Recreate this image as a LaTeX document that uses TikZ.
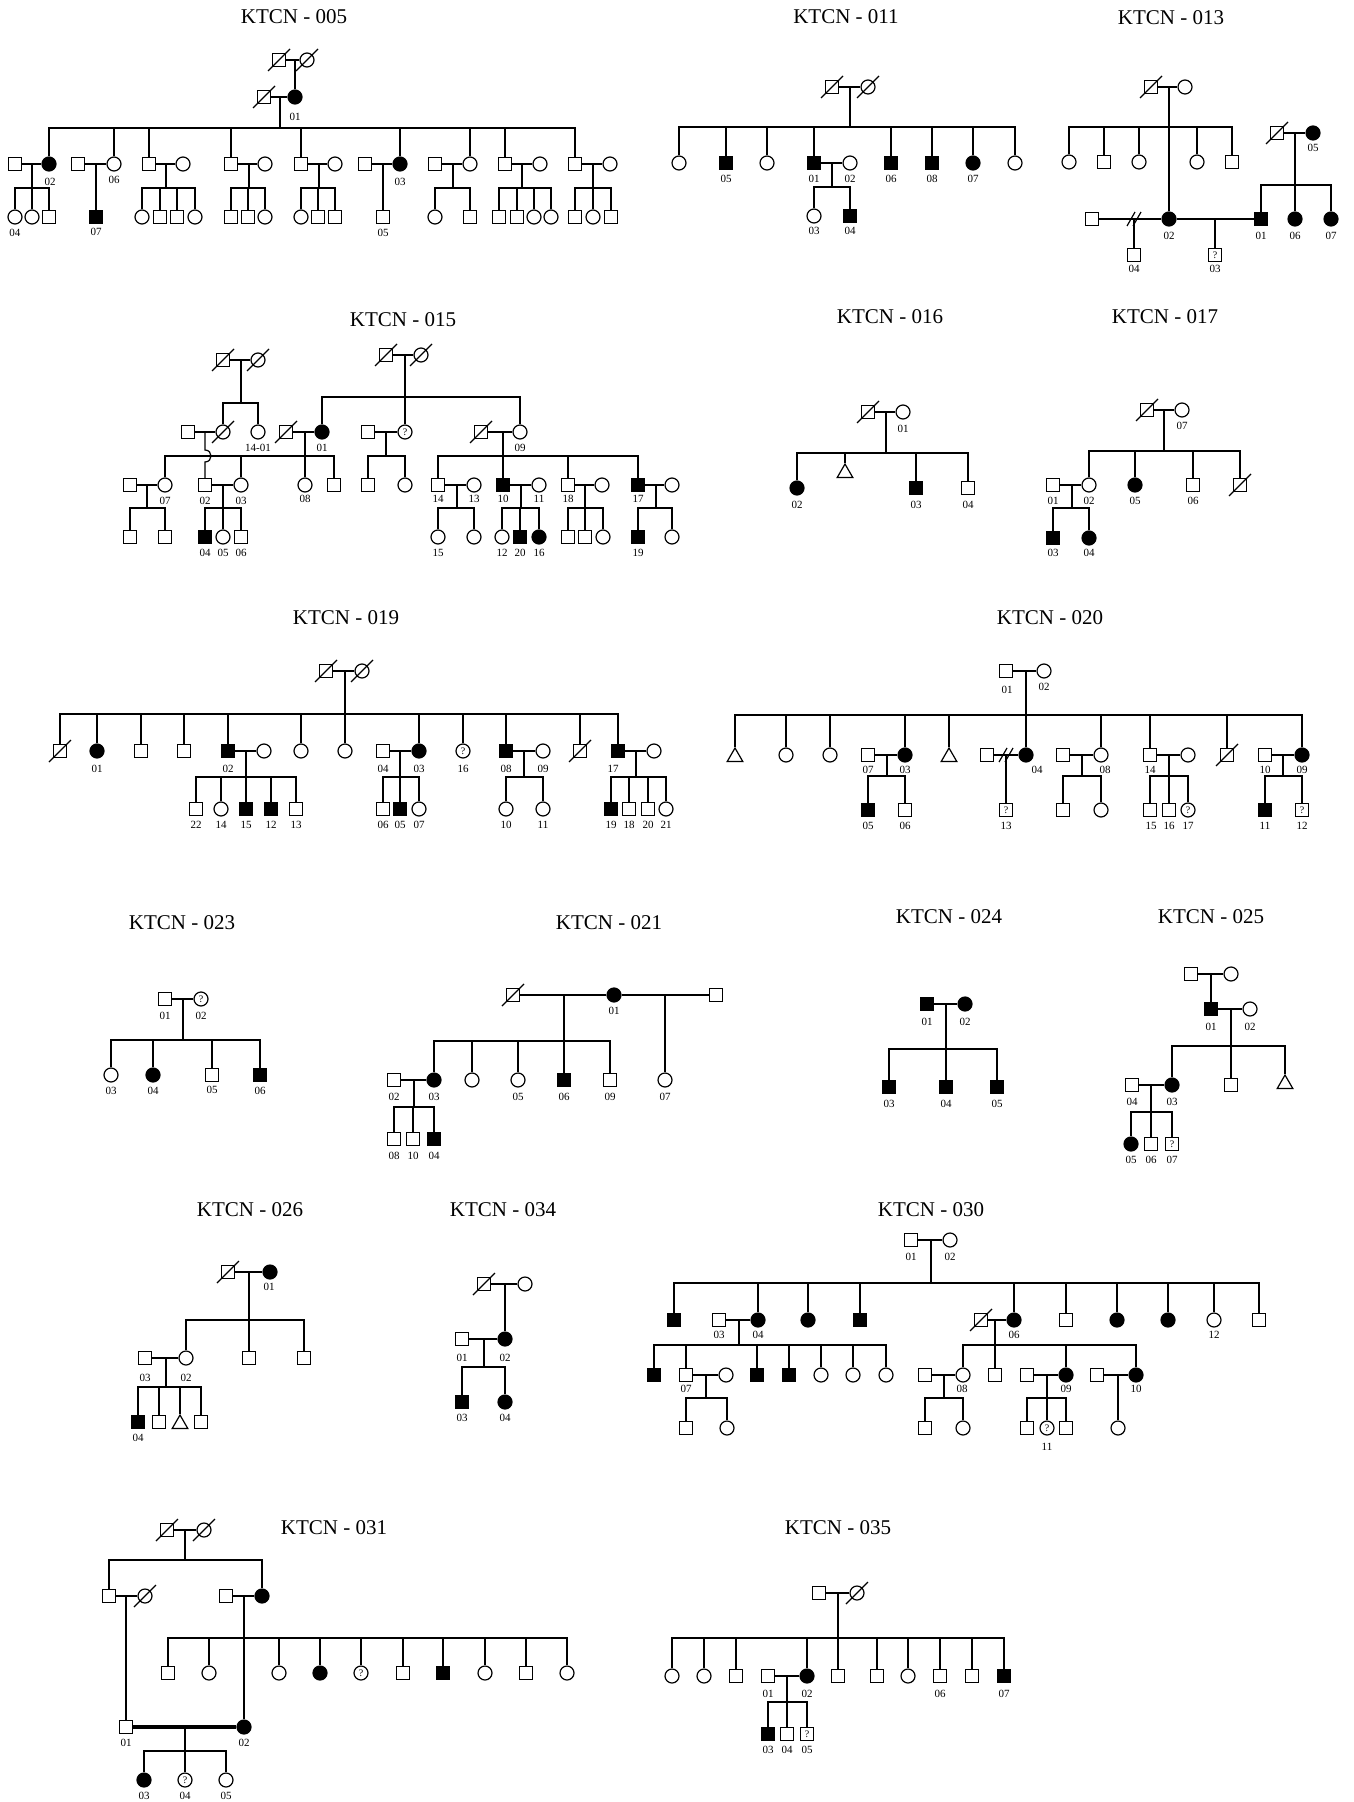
\documentclass[tikz,border=0pt]{standalone}
\usepackage{fontspec}
\setmainfont{Liberation Serif}
\usetikzlibrary{shapes.geometric}
\tikzset{
  ln/.style={line width=0.6pt},
  sym/.style={draw, line width=0.6pt, inner sep=0pt, fill=white, font=\fontsize{5}{5}\selectfont},
  mal/.style={sym, rectangle, minimum size=6.5pt},
  fem/.style={sym, circle, minimum size=7pt},
  tri/.style={sym, regular polygon, regular polygon sides=3, minimum size=9pt},
  aff/.style={fill=black},
  lab/.style={font=\fontsize{5.5}{6}\selectfont, inner sep=0pt},
  ttl/.style={font=\fontsize{10.5}{12}\selectfont, inner sep=0pt},
  thickln/.style={line width=2pt},
}
\newcounter{lbc}
\newcommand\lb[2]{\stepcounter{lbc}\node[lab] (lb\thelbc) at (#1) {#2};}
\newcommand\dead[1]{\draw[ln] ([shift={(-11,11)}]#1.center) -- ([shift={(11,-11)}]#1.center);}
\newcommand\pfam[3]{\draw[ln] (#1) -- (#1 |- #2);
  \foreach \ch in {#3} {\draw[ln] (#1 |- #2) -- (\ch |- #2) -- (\ch);}}
\newcommand\divo[1]{\draw[ln] ([shift={(-7,7)}]#1) -- ([shift={(1,-7)}]#1);
  \draw[ln] ([shift={(-1,7)}]#1) -- ([shift={(7,-7)}]#1);}
\begin{document}
\begin{tikzpicture}[x=0.5pt,y=-0.5pt]
\fill[white] (0,0) rectangle (1353,1802);
\useasboundingbox (0,0) rectangle (1353,1802);

% ================= KTCN-005 =================
\node[ttl] (aT) at (294,17) {KTCN - 005};
\node[mal] (a1) at (279,60) {}; \node[fem] (a2) at (307,60) {};
\node[mal] (a3) at (264,97) {}; \node[fem,aff] (a4) at (295,97) {};
\node[mal] (a5) at (15,164) {}; \node[fem,aff] (a6) at (49,164) {};
\node[mal] (a7) at (78,164) {}; \node[fem] (a8) at (114,164) {};
\node[mal] (a9) at (149,164) {}; \node[fem] (a10) at (183,164) {};
\node[mal] (a11) at (231,164) {}; \node[fem] (a12) at (265,164) {};
\node[mal] (a13) at (301,164) {}; \node[fem] (a14) at (335,164) {};
\node[mal] (a15) at (365,164) {}; \node[fem,aff] (a16) at (400,164) {};
\node[mal] (a17) at (435,164) {}; \node[fem] (a18) at (470,164) {};
\node[mal] (a19) at (505,164) {}; \node[fem] (a20) at (540,164) {};
\node[mal] (a21) at (575,164) {}; \node[fem] (a22) at (610,164) {};
\node[fem] (a23) at (15,217) {}; \node[fem] (a24) at (32,217) {}; \node[mal] (a25) at (49,217) {};
\node[mal,aff] (a26) at (96,217) {};
\node[fem] (a27) at (142,217) {}; \node[mal] (a28) at (160,217) {}; \node[mal] (a29) at (177,217) {}; \node[fem] (a30) at (195,217) {};
\node[mal] (a31) at (231,217) {}; \node[mal] (a32) at (248,217) {}; \node[fem] (a33) at (265,217) {};
\node[fem] (a34) at (301,217) {}; \node[mal] (a35) at (318,217) {}; \node[mal] (a36) at (335,217) {};
\node[mal] (a37) at (383,217) {};
\node[fem] (a38) at (435,217) {}; \node[mal] (a39) at (470,217) {};
\node[mal] (a40) at (499,217) {}; \node[mal] (a41) at (517,217) {}; \node[fem] (a42) at (534,217) {}; \node[fem] (a43) at (551,217) {};
\node[mal] (a44) at (575,217) {}; \node[fem] (a45) at (593,217) {}; \node[mal] (a46) at (611,217) {};
\dead{a1}\dead{a2}\dead{a3}
\coordinate (aM1) at (295,60); \coordinate (aM2) at (280,97); \coordinate (aS2) at (0,128);
\coordinate (aS3) at (0,188);
\coordinate (aM3) at (32,164); \coordinate (aM4) at (96,164); \coordinate (aM5) at (166,164);
\coordinate (aM6) at (249,164); \coordinate (aM7) at (319,164); \coordinate (aM8) at (383,164);
\coordinate (aM9) at (453,164); \coordinate (aM10) at (522,164); \coordinate (aM11) at (593,164);
\draw[ln] (a1) -- (a2); \draw[ln] (a3) -- (a4); \draw[ln] (aM1) -- (a4);
\pfam{aM2}{aS2}{a6,a8,a9,a11,a13,a16,a18,a19,a21}
\draw[ln] (a5) -- (a6); \draw[ln] (a7) -- (a8); \draw[ln] (a9) -- (a10); \draw[ln] (a11) -- (a12);
\draw[ln] (a13) -- (a14); \draw[ln] (a15) -- (a16); \draw[ln] (a17) -- (a18); \draw[ln] (a19) -- (a20);
\draw[ln] (a21) -- (a22);
\pfam{aM3}{aS3}{a23,a24,a25}
\draw[ln] (aM4) -- (a26);
\pfam{aM5}{aS3}{a27,a28,a29,a30}
\pfam{aM6}{aS3}{a31,a32,a33}
\pfam{aM7}{aS3}{a34,a35,a36}
\draw[ln] (aM8) -- (a37);
\pfam{aM9}{aS3}{a38,a39}
\pfam{aM10}{aS3}{a40,a41,a42,a43}
\pfam{aM11}{aS3}{a44,a45,a46}
\lb{295,117}{01}\lb{50,182}{02}\lb{114,180}{06}\lb{400,182}{03}
\lb{15,233}{04}\lb{96,232}{07}\lb{383,233}{05}

% ================= KTCN-011 =================
\node[ttl] (bT) at (846,17) {KTCN - 011};
\node[mal] (b1) at (832,87) {}; \node[fem] (b2) at (868,87) {};
\node[fem] (b3) at (679,163) {}; \node[mal,aff] (b4) at (726,163) {};
\node[fem] (b5) at (767,163) {}; \node[mal,aff] (b6) at (814,163) {};
\node[mal,aff] (b7) at (891,163) {}; \node[mal,aff] (b8) at (932,163) {};
\node[fem,aff] (b9) at (973,163) {}; \node[fem] (b10) at (1015,163) {};
\node[fem] (b11) at (850,163) {};
\node[fem] (b12) at (814,216) {}; \node[mal,aff] (b13) at (850,216) {};
\dead{b1}\dead{b2}
\coordinate (bM1) at (850,87); \coordinate (bS1) at (0,127);
\coordinate (bM2) at (832,163); \coordinate (bS2) at (0,187);
\draw[ln] (b1) -- (b2);
\pfam{bM1}{bS1}{b3,b4,b5,b6,b7,b8,b9,b10}
\draw[ln] (b6) -- (b11);
\pfam{bM2}{bS2}{b12,b13}
\lb{726,179}{05}\lb{814,179}{01}\lb{850,179}{02}\lb{891,179}{06}\lb{932,179}{08}\lb{973,179}{07}
\lb{814,231}{03}\lb{850,231}{04}

% ================= KTCN-013 =================
\node[ttl] (cT) at (1171,18) {KTCN - 013};
\node[mal] (c1) at (1151,87) {}; \node[fem] (c2) at (1185,87) {};
\node[fem] (c3) at (1069,162) {}; \node[mal] (c4) at (1104,162) {}; \node[fem] (c5) at (1139,162) {};
\node[fem] (c6) at (1197,162) {}; \node[mal] (c7) at (1232,162) {};
\node[fem,aff] (c8) at (1169,219) {};
\node[mal] (c9) at (1277,133) {}; \node[fem,aff] (c10) at (1313,133) {};
\node[mal,aff] (c11) at (1261,219) {}; \node[fem,aff] (c12) at (1295,219) {}; \node[fem,aff] (c13) at (1331,219) {};
\node[mal] (c14) at (1092,219) {};
\node[mal] (c15) at (1134,255) {};
\node[mal] (c16) at (1215,255) {?};
\dead{c1}\dead{c9}
\coordinate (cM1) at (1169,87); \coordinate (cS1) at (0,127);
\coordinate (cM2) at (1295,133); \coordinate (cS2) at (0,185);
\coordinate (cD) at (1134,219); \coordinate (cM3) at (1215,219);
\draw[ln] (c1) -- (c2);
\pfam{cM1}{cS1}{c3,c4,c5,c6,c7}
\draw[ln] (cM1) -- (c8);
\draw[ln] (c9) -- (c10);
\pfam{cM2}{cS2}{c11,c12,c13}
\draw[ln] (c14) -- (c8); \divo{cD}
\draw[ln] (cD) -- (c15);
\draw[ln] (c8) -- (c11);
\draw[ln] (cM3) -- (c16);
\lb{1313,148}{05}\lb{1169,236}{02}\lb{1261,236}{01}\lb{1295,236}{06}\lb{1331,236}{07}
\lb{1134,269}{04}\lb{1215,269}{03}

% ================= KTCN-015 =================
\node[ttl] (dT) at (403,320) {KTCN - 015};
\node[mal] (d1) at (223,360) {}; \node[fem] (d2) at (258,360) {};
\node[fem] (d3) at (223,432) {}; \node[fem] (d4) at (258,432) {};
\node[mal] (d5) at (386,355) {}; \node[fem] (d6) at (421,355) {};
\node[fem,aff] (d7) at (322,432) {}; \node[fem] (d8) at (405,432) {?}; \node[fem] (d9) at (520,432) {};
\node[mal] (d10) at (188,432) {}; \node[mal] (d11) at (286,432) {};
\node[mal] (d12) at (368,432) {}; \node[mal] (d13) at (481,432) {};
\node[mal] (d14) at (130,485) {}; \node[fem] (d15) at (165,485) {};
\node[mal] (d16) at (205,485) {}; \node[fem] (d17) at (241,485) {};
\node[fem] (d18) at (305,485) {}; \node[mal] (d19) at (334,485) {};
\node[mal] (d20) at (368,485) {}; \node[fem] (d21) at (405,485) {};
\node[mal] (d22) at (438,485) {}; \node[fem] (d23) at (474,485) {};
\node[mal,aff] (d24) at (503,485) {}; \node[fem] (d25) at (539,485) {};
\node[mal] (d26) at (568,485) {}; \node[fem] (d27) at (602,485) {};
\node[mal,aff] (d28) at (638,485) {}; \node[fem] (d29) at (672,485) {};
\node[mal] (d30) at (130,537) {}; \node[mal] (d31) at (165,537) {};
\node[mal,aff] (d32) at (205,537) {}; \node[fem] (d33) at (223,537) {}; \node[mal] (d34) at (241,537) {};
\node[fem] (d35) at (438,537) {}; \node[fem] (d36) at (474,537) {};
\node[fem] (d37) at (502,537) {}; \node[mal,aff] (d38) at (520,537) {}; \node[fem,aff] (d39) at (539,537) {};
\node[mal] (d40) at (568,537) {}; \node[mal] (d41) at (585,537) {}; \node[fem] (d42) at (603,537) {};
\node[mal,aff] (d43) at (638,537) {}; \node[fem] (d44) at (672,537) {};
\dead{d1}\dead{d2}\dead{d3}\dead{d5}\dead{d6}\dead{d11}\dead{d13}
\coordinate (dM1) at (241,360); \coordinate (dS1) at (0,403);
\coordinate (dM2) at (405,355); \coordinate (dS2) at (0,397);
\coordinate (dM3) at (205,432); \coordinate (dM4) at (305,432); \coordinate (dS4) at (0,456);
\coordinate (dM5) at (386,432); \coordinate (dM6) at (503,432);
\coordinate (dS5) at (0,508);
\coordinate (dM7) at (147,485); \coordinate (dM8) at (223,485); \coordinate (dM9) at (457,485);
\coordinate (dM10) at (521,485); \coordinate (dM11) at (585,485); \coordinate (dM12) at (656,485);
\draw[ln] (d1) -- (d2); \pfam{dM1}{dS1}{d3,d4}
\draw[ln] (d5) -- (d6); \pfam{dM2}{dS2}{d7,d8,d9}
\draw[ln] (d10) -- (d3); \draw[ln] (d11) -- (d7); \draw[ln] (d12) -- (d8); \draw[ln] (d13) -- (d9);
\pfam{dM4}{dS4}{d15,d17,d18,d19}
\draw[ln] (dM3) -- (205,450) .. controls (213,450) and (213,462) .. (205,462) -- (d16);
\pfam{dM5}{dS4}{d20,d21}
\pfam{dM6}{dS4}{d22,d24,d26,d28}
\draw[ln] (d14) -- (d15); \draw[ln] (d16) -- (d17); \draw[ln] (d22) -- (d23);
\draw[ln] (d24) -- (d25); \draw[ln] (d26) -- (d27); \draw[ln] (d28) -- (d29);
\pfam{dM7}{dS5}{d30,d31}
\pfam{dM8}{dS5}{d32,d33,d34}
\pfam{dM9}{dS5}{d35,d36}
\pfam{dM10}{dS5}{d37,d38,d39}
\pfam{dM11}{dS5}{d40,d41,d42}
\pfam{dM12}{dS5}{d43,d44}
\lb{258,448}{14-01}\lb{322,448}{01}\lb{520,448}{09}
\lb{165,501}{07}\lb{205,501}{02}\lb{241,501}{03}\lb{305,499}{08}
\lb{438,499}{14}\lb{474,499}{13}\lb{503,499}{10}\lb{539,499}{11}\lb{568,499}{18}\lb{638,499}{17}
\lb{205,553}{04}\lb{223,553}{05}\lb{241,553}{06}\lb{438,553}{15}
\lb{502,553}{12}\lb{520,553}{20}\lb{539,553}{16}\lb{638,553}{19}

% ================= KTCN-016 =================
\node[ttl] (eT) at (890,317) {KTCN - 016};
\node[mal] (e1) at (868,412) {}; \node[fem] (e2) at (903,412) {};
\node[fem,aff] (e3) at (797,488) {}; \node[tri] (e4) at (845,473) {};
\node[mal,aff] (e5) at (916,488) {}; \node[mal] (e6) at (968,488) {};
\dead{e1}
\coordinate (eM1) at (886,412); \coordinate (eS1) at (0,453);
\draw[ln] (e1) -- (e2);
\pfam{eM1}{eS1}{e3,e4,e5,e6}
\lb{903,429}{01}\lb{797,505}{02}\lb{916,505}{03}\lb{968,505}{04}

% ================= KTCN-017 =================
\node[ttl] (fT) at (1165,317) {KTCN - 017};
\node[mal] (f1) at (1147,410) {}; \node[fem] (f2) at (1182,410) {};
\node[fem] (f3) at (1089,485) {}; \node[fem,aff] (f4) at (1135,485) {};
\node[mal] (f5) at (1193,485) {}; \node[mal] (f6) at (1240,485) {};
\node[mal] (f7) at (1053,485) {};
\node[mal,aff] (f8) at (1053,538) {}; \node[fem,aff] (f9) at (1089,538) {};
\dead{f1}\dead{f6}
\coordinate (fM1) at (1164,410); \coordinate (fS1) at (0,451);
\coordinate (fM2) at (1072,485); \coordinate (fS2) at (0,508);
\draw[ln] (f1) -- (f2);
\pfam{fM1}{fS1}{f3,f4,f5,f6}
\draw[ln] (f7) -- (f3);
\pfam{fM2}{fS2}{f8,f9}
\lb{1182,426}{07}\lb{1053,501}{01}\lb{1089,501}{02}\lb{1135,501}{05}\lb{1193,501}{06}
\lb{1053,553}{03}\lb{1089,553}{04}

% ================= KTCN-019 =================
\node[ttl] (gT) at (346,618) {KTCN - 019};
\node[mal] (g1) at (326,671) {}; \node[fem] (g2) at (362,671) {};
\node[mal] (g3) at (60,751) {}; \node[fem,aff] (g4) at (97,751) {};
\node[mal] (g5) at (141,751) {}; \node[mal] (g6) at (184,751) {};
\node[mal,aff] (g7) at (228,751) {}; \node[fem] (g8) at (301,751) {};
\node[fem] (g9) at (345,751) {}; \node[fem,aff] (g10) at (419,751) {};
\node[fem] (g11) at (463,751) {?}; \node[mal,aff] (g12) at (506,751) {};
\node[mal] (g13) at (580,751) {}; \node[mal,aff] (g14) at (618,751) {};
\node[fem] (g15) at (264,751) {}; \node[mal] (g16) at (383,751) {};
\node[fem] (g17) at (543,751) {}; \node[fem] (g18) at (654,751) {};
\node[mal] (g19) at (196,809) {}; \node[fem] (g20) at (221,809) {};
\node[mal,aff] (g21) at (246,809) {}; \node[mal,aff] (g22) at (271,809) {}; \node[mal] (g23) at (296,809) {};
\node[mal] (g24) at (383,809) {}; \node[mal,aff] (g25) at (400,809) {}; \node[fem] (g26) at (419,809) {};
\node[fem] (g27) at (506,809) {}; \node[fem] (g28) at (543,809) {};
\node[mal,aff] (g29) at (611,809) {}; \node[mal] (g30) at (629,809) {};
\node[mal] (g31) at (648,809) {}; \node[fem] (g32) at (666,809) {};
\dead{g1}\dead{g2}\dead{g3}\dead{g13}
\coordinate (gM1) at (345,671); \coordinate (gS1) at (0,714);
\coordinate (gS2) at (0,777);
\coordinate (gM2) at (246,751); \coordinate (gM3) at (400,751);
\coordinate (gM4) at (524,751); \coordinate (gM5) at (636,751);
\draw[ln] (g1) -- (g2);
\pfam{gM1}{gS1}{g3,g4,g5,g6,g7,g8,g9,g10,g11,g12,g13,g14}
\draw[ln] (g7) -- (g15); \draw[ln] (g16) -- (g10); \draw[ln] (g12) -- (g17); \draw[ln] (g14) -- (g18);
\pfam{gM2}{gS2}{g19,g20,g21,g22,g23}
\pfam{gM3}{gS2}{g24,g25,g26}
\pfam{gM4}{gS2}{g27,g28}
\pfam{gM5}{gS2}{g29,g30,g31,g32}
\lb{97,769}{01}\lb{228,769}{02}\lb{383,769}{04}\lb{419,769}{03}\lb{463,769}{16}
\lb{506,769}{08}\lb{543,769}{09}\lb{613,769}{17}
\lb{196,825}{22}\lb{221,825}{14}\lb{246,825}{15}\lb{271,825}{12}\lb{296,825}{13}
\lb{383,825}{06}\lb{400,825}{05}\lb{419,825}{07}\lb{506,825}{10}\lb{543,825}{11}
\lb{611,825}{19}\lb{629,825}{18}\lb{648,825}{20}\lb{666,825}{21}

% ================= KTCN-020 =================
\node[ttl] (hT) at (1050,618) {KTCN - 020};
\node[mal] (h1) at (1006,671) {}; \node[fem] (h2) at (1044,671) {};
\node[tri] (h3) at (735,757) {}; \node[fem] (h4) at (786,755) {}; \node[fem] (h5) at (830,755) {};
\node[fem,aff] (h6) at (905,755) {}; \node[tri] (h7) at (949,757) {};
\node[fem,aff] (h8) at (1026,755) {}; \node[fem] (h9) at (1101,755) {};
\node[mal] (h10) at (1150,755) {}; \node[mal] (h11) at (1227,755) {};
\node[fem,aff] (h12) at (1302,755) {};
\node[mal] (h13) at (868,755) {}; \node[mal] (h14) at (987,755) {};
\node[mal] (h15) at (1063,755) {}; \node[fem] (h16) at (1188,755) {};
\node[mal] (h17) at (1265,755) {};
\node[mal,aff] (h18) at (868,810) {}; \node[mal] (h19) at (905,810) {};
\node[mal] (h20) at (1006,810) {?};
\node[mal] (h21) at (1063,810) {}; \node[fem] (h22) at (1101,810) {};
\node[mal] (h23) at (1150,810) {}; \node[mal] (h24) at (1169,810) {}; \node[fem] (h25) at (1188,810) {?};
\node[mal,aff] (h26) at (1265,810) {}; \node[mal] (h27) at (1302,810) {?};
\dead{h11}
\coordinate (hM1) at (1026,671); \coordinate (hS1) at (0,715);
\coordinate (hS2) at (0,776);
\coordinate (hM2) at (887,755); \coordinate (hD) at (1006,755);
\coordinate (hM3) at (1082,755); \coordinate (hM4) at (1169,755); \coordinate (hM5) at (1283,755);
\draw[ln] (h1) -- (h2);
\pfam{hM1}{hS1}{h3,h4,h5,h6,h7,h8,h9,h10,h11,h12}
\draw[ln] (h13) -- (h6); \draw[ln] (h14) -- (h8); \divo{hD}
\draw[ln] (h15) -- (h9); \draw[ln] (h10) -- (h16); \draw[ln] (h17) -- (h12);
\pfam{hM2}{hS2}{h18,h19}
\draw[ln] (hD) -- (h20);
\pfam{hM3}{hS2}{h21,h22}
\pfam{hM4}{hS2}{h23,h24,h25}
\pfam{hM5}{hS2}{h26,h27}
\lb{1007,690}{01}\lb{1044,687}{02}
\lb{868,770}{07}\lb{905,770}{03}\lb{1037,770}{04}\lb{1105,770}{08}\lb{1150,770}{14}
\lb{1265,770}{10}\lb{1302,770}{09}
\lb{868,826}{05}\lb{905,826}{06}\lb{1006,826}{13}\lb{1151,826}{15}\lb{1169,826}{16}
\lb{1188,826}{17}\lb{1265,826}{11}\lb{1302,826}{12}

% ================= KTCN-023 =================
\node[ttl] (iT) at (182,923) {KTCN - 023};
\node[mal] (i1) at (165,999) {}; \node[fem] (i2) at (201,999) {?};
\node[fem] (i3) at (111,1075) {}; \node[fem,aff] (i4) at (153,1075) {};
\node[mal] (i5) at (212,1075) {}; \node[mal,aff] (i6) at (260,1075) {};
\coordinate (iM1) at (183,999); \coordinate (iS1) at (0,1040);
\draw[ln] (i1) -- (i2);
\pfam{iM1}{iS1}{i3,i4,i5,i6}
\lb{165,1016}{01}\lb{201,1016}{02}
\lb{111,1091}{03}\lb{153,1091}{04}\lb{212,1090}{05}\lb{260,1091}{06}

% ================= KTCN-021 =================
\node[ttl] (jT) at (609,923) {KTCN - 021};
\node[mal] (j1) at (513,995) {}; \node[fem,aff] (j2) at (614,995) {}; \node[mal] (j3) at (716,995) {};
\node[fem,aff] (j4) at (434,1080) {}; \node[fem] (j5) at (472,1080) {}; \node[fem] (j6) at (518,1080) {};
\node[mal,aff] (j7) at (564,1080) {}; \node[mal] (j8) at (610,1080) {}; \node[fem] (j9) at (665,1080) {};
\node[mal] (j10) at (394,1080) {};
\node[mal] (j11) at (394,1139) {}; \node[mal] (j12) at (413,1139) {}; \node[mal,aff] (j13) at (434,1139) {};
\dead{j1}
\coordinate (jM1) at (564,995); \coordinate (jS1) at (0,1041); \coordinate (jM2) at (665,995);
\coordinate (jM3) at (414,1080); \coordinate (jS2) at (0,1107);
\draw[ln] (j1) -- (j2); \draw[ln] (j2) -- (j3);
\pfam{jM1}{jS1}{j4,j5,j6,j7,j8}
\draw[ln] (jM2) -- (j9);
\draw[ln] (j10) -- (j4);
\pfam{jM3}{jS2}{j11,j12,j13}
\lb{614,1011}{01}
\lb{394,1097}{02}\lb{434,1097}{03}\lb{518,1097}{05}\lb{564,1097}{06}\lb{610,1097}{09}\lb{665,1097}{07}
\lb{394,1156}{08}\lb{413,1156}{10}\lb{434,1156}{04}

% ================= KTCN-024 =================
\node[ttl] (kT) at (949,917) {KTCN - 024};
\node[mal,aff] (k1) at (927,1004) {}; \node[fem,aff] (k2) at (965,1004) {};
\node[mal,aff] (k3) at (889,1087) {}; \node[mal,aff] (k4) at (946,1087) {}; \node[mal,aff] (k5) at (997,1087) {};
\coordinate (kM1) at (946,1004); \coordinate (kS1) at (0,1049);
\draw[ln] (k1) -- (k2);
\pfam{kM1}{kS1}{k3,k4,k5}
\lb{927,1022}{01}\lb{965,1022}{02}\lb{889,1104}{03}\lb{946,1104}{04}\lb{997,1104}{05}

% ================= KTCN-025 =================
\node[ttl] (lT) at (1211,917) {KTCN - 025};
\node[mal] (l1) at (1191,974) {}; \node[fem] (l2) at (1231,974) {};
\node[mal,aff] (l3) at (1211,1009) {}; \node[fem] (l4) at (1250,1009) {};
\node[fem,aff] (l5) at (1172,1085) {}; \node[mal] (l6) at (1231,1085) {}; \node[tri] (l7) at (1285,1084) {};
\node[mal] (l8) at (1132,1085) {};
\node[fem,aff] (l9) at (1131,1144) {}; \node[mal] (l10) at (1151,1144) {}; \node[mal] (l11) at (1172,1144) {?};
\coordinate (lM1) at (1211,974); \coordinate (lM2) at (1231,1009); \coordinate (lS1) at (0,1046);
\coordinate (lM3) at (1151,1085); \coordinate (lS2) at (0,1112);
\draw[ln] (l1) -- (l2); \draw[ln] (lM1) -- (l3); \draw[ln] (l3) -- (l4);
\pfam{lM2}{lS1}{l5,l6,l7}
\draw[ln] (l8) -- (l5);
\pfam{lM3}{lS2}{l9,l10,l11}
\lb{1211,1027}{01}\lb{1250,1027}{02}\lb{1132,1102}{04}\lb{1172,1102}{03}
\lb{1131,1160}{05}\lb{1151,1160}{06}\lb{1172,1160}{07}

% ================= KTCN-026 =================
\node[ttl] (mT) at (250,1210) {KTCN - 026};
\node[mal] (m1) at (228,1272) {}; \node[fem,aff] (m2) at (270,1272) {};
\node[fem] (m3) at (186,1358) {}; \node[mal] (m4) at (249,1358) {}; \node[mal] (m5) at (304,1358) {};
\node[mal] (m6) at (145,1358) {};
\node[mal,aff] (m7) at (138,1422) {}; \node[mal] (m8) at (159,1422) {};
\node[tri] (m9) at (180,1424) {}; \node[mal] (m10) at (201,1422) {};
\dead{m1}
\coordinate (mM1) at (249,1272); \coordinate (mS1) at (0,1320);
\coordinate (mM2) at (166,1358); \coordinate (mS2) at (0,1387);
\draw[ln] (m1) -- (m2);
\pfam{mM1}{mS1}{m3,m4,m5}
\draw[ln] (m6) -- (m3);
\pfam{mM2}{mS2}{m7,m8,m9,m10}
\lb{269,1287}{01}\lb{145,1378}{03}\lb{186,1378}{02}\lb{138,1438}{04}

% ================= KTCN-034 =================
\node[ttl] (nT) at (503,1210) {KTCN - 034};
\node[mal] (n1) at (484,1284) {}; \node[fem] (n2) at (525,1284) {};
\node[fem,aff] (n3) at (505,1339) {}; \node[mal] (n4) at (462,1339) {};
\node[mal,aff] (n5) at (462,1402) {}; \node[fem,aff] (n6) at (505,1402) {};
\dead{n1}
\coordinate (nM1) at (505,1284); \coordinate (nM2) at (484,1339); \coordinate (nS1) at (0,1367);
\draw[ln] (n1) -- (n2); \draw[ln] (nM1) -- (n3); \draw[ln] (n4) -- (n3);
\pfam{nM2}{nS1}{n5,n6}
\lb{462,1358}{01}\lb{505,1358}{02}\lb{462,1418}{03}\lb{505,1418}{04}

% ================= KTCN-030 =================
\node[ttl] (oT) at (931,1210) {KTCN - 030};
\node[mal] (o1) at (911,1240) {}; \node[fem] (o2) at (950,1240) {};
\node[mal,aff] (o3) at (674,1320) {}; \node[fem,aff] (o4) at (758,1320) {};
\node[fem,aff] (o5) at (808,1320) {}; \node[mal,aff] (o6) at (860,1320) {};
\node[fem,aff] (o7) at (1014,1320) {}; \node[mal] (o8) at (1066,1320) {};
\node[fem,aff] (o9) at (1117,1320) {}; \node[fem,aff] (o10) at (1168,1320) {};
\node[fem] (o11) at (1214,1320) {}; \node[mal] (o12) at (1259,1320) {};
\node[mal] (o13) at (719,1320) {}; \node[mal] (o14) at (981,1320) {};
\node[mal,aff] (o15) at (654,1375) {}; \node[mal] (o16) at (686,1375) {};
\node[mal,aff] (o17) at (757,1375) {}; \node[mal,aff] (o18) at (789,1375) {};
\node[fem] (o19) at (821,1375) {}; \node[fem] (o20) at (853,1375) {}; \node[fem] (o21) at (886,1375) {};
\node[fem] (o22) at (726,1375) {};
\node[mal] (o23) at (686,1428) {}; \node[fem] (o24) at (727,1428) {};
\node[fem] (o25) at (963,1375) {}; \node[mal] (o26) at (995,1375) {};
\node[fem,aff] (o27) at (1066,1375) {}; \node[fem,aff] (o28) at (1136,1375) {};
\node[mal] (o29) at (925,1375) {};
\node[mal] (o30) at (925,1428) {}; \node[fem] (o31) at (963,1428) {};
\node[mal] (o32) at (1027,1375) {};
\node[mal] (o33) at (1027,1428) {}; \node[fem] (o34) at (1047,1428) {?}; \node[mal] (o35) at (1066,1428) {};
\node[mal] (o36) at (1097,1375) {};
\node[fem] (o37) at (1118,1428) {};
\dead{o14}
\coordinate (oM1) at (931,1240); \coordinate (oS1) at (0,1283);
\coordinate (oM2) at (739,1320); \coordinate (oS2) at (0,1345);
\coordinate (oM3) at (706,1375); \coordinate (oS3) at (0,1398);
\coordinate (oM4) at (995,1320); \coordinate (oM5) at (944,1375);
\coordinate (oM6) at (1047,1375); \coordinate (oM7) at (1118,1375);
\draw[ln] (o1) -- (o2);
\pfam{oM1}{oS1}{o3,o4,o5,o6,o7,o8,o9,o10,o11,o12}
\draw[ln] (o13) -- (o4); \draw[ln] (o14) -- (o7);
\pfam{oM2}{oS2}{o15,o16,o17,o18,o19,o20,o21}
\draw[ln] (o16) -- (o22);
\pfam{oM3}{oS3}{o23,o24}
\pfam{oM4}{oS2}{o25,o26,o27,o28}
\draw[ln] (o29) -- (o25); \draw[ln] (o32) -- (o27); \draw[ln] (o36) -- (o28);
\pfam{oM5}{oS3}{o30,o31}
\pfam{oM6}{oS3}{o33,o34,o35}
\draw[ln] (oM7) -- (o37);
\lb{911,1257}{01}\lb{950,1257}{02}
\lb{719,1335}{03}\lb{758,1335}{04}\lb{1014,1335}{06}\lb{1214,1335}{12}
\lb{686,1389}{07}\lb{962,1389}{08}\lb{1066,1389}{09}\lb{1136,1389}{10}
\lb{1047,1447}{11}

% ================= KTCN-031 =================
\node[ttl] (pT) at (334,1528) {KTCN - 031};
\node[mal] (p1) at (167,1530) {}; \node[fem] (p2) at (204,1530) {};
\node[mal] (p3) at (109,1596) {}; \node[fem,aff] (p4) at (262,1596) {};
\node[fem] (p5) at (145,1596) {}; \node[mal] (p6) at (226,1596) {};
\node[mal] (p7) at (168,1673) {}; \node[fem] (p8) at (209,1673) {};
\node[fem] (p9) at (279,1673) {}; \node[fem,aff] (p10) at (320,1673) {};
\node[fem] (p11) at (361,1673) {?}; \node[mal] (p12) at (403,1673) {};
\node[mal,aff] (p13) at (443,1673) {}; \node[fem] (p14) at (485,1673) {};
\node[mal] (p15) at (526,1673) {}; \node[fem] (p16) at (567,1673) {};
\node[mal] (p17) at (126,1727) {}; \node[fem,aff] (p18) at (244,1727) {};
\node[fem,aff] (p19) at (144,1780) {}; \node[fem] (p20) at (185,1780) {?}; \node[fem] (p21) at (226,1780) {};
\dead{p1}\dead{p2}\dead{p5}
\coordinate (pM1) at (185,1530); \coordinate (pS1) at (0,1560);
\coordinate (pM2) at (126,1596); \coordinate (pM3) at (244,1596); \coordinate (pS2) at (0,1638);
\coordinate (pM4) at (185,1727); \coordinate (pS3) at (0,1751);
\draw[ln] (p1) -- (p2);
\pfam{pM1}{pS1}{p3,p4}
\draw[ln] (p3) -- (p5); \draw[ln] (p6) -- (p4);
\pfam{pM3}{pS2}{p7,p8,p9,p10,p11,p12,p13,p14,p15,p16}
\draw[ln] (pM2) -- (p17); \draw[ln] (pM3) -- (p18);
\draw[thickln] (p17) -- (p18);
\pfam{pM4}{pS3}{p19,p20,p21}
\lb{126,1743}{01}\lb{244,1743}{02}\lb{144,1796}{03}\lb{185,1796}{04}\lb{226,1796}{05}

% ================= KTCN-035 =================
\node[ttl] (qT) at (838,1528) {KTCN - 035};
\node[mal] (q1) at (819,1593) {}; \node[fem] (q2) at (857,1593) {};
\node[fem] (q3) at (672,1676) {}; \node[fem] (q4) at (704,1676) {}; \node[mal] (q5) at (736,1676) {};
\node[fem,aff] (q6) at (807,1676) {}; \node[mal] (q7) at (838,1676) {}; \node[mal] (q8) at (877,1676) {};
\node[fem] (q9) at (908,1676) {}; \node[mal] (q10) at (940,1676) {}; \node[mal] (q11) at (972,1676) {};
\node[mal,aff] (q12) at (1004,1676) {};
\node[mal] (q13) at (768,1676) {};
\node[mal,aff] (q14) at (768,1734) {}; \node[mal] (q15) at (787,1734) {}; \node[mal] (q16) at (807,1734) {?};
\dead{q2}
\coordinate (qM1) at (838,1593); \coordinate (qS1) at (0,1638);
\coordinate (qM2) at (787,1676); \coordinate (qS2) at (0,1702);
\draw[ln] (q1) -- (q2);
\pfam{qM1}{qS1}{q3,q4,q5,q6,q7,q8,q9,q10,q11,q12}
\draw[ln] (q13) -- (q6);
\pfam{qM2}{qS2}{q14,q15,q16}
\lb{768,1694}{01}\lb{807,1694}{02}\lb{940,1694}{06}\lb{1004,1694}{07}
\lb{768,1750}{03}\lb{787,1750}{04}\lb{807,1750}{05}
\end{tikzpicture}
\end{document}
